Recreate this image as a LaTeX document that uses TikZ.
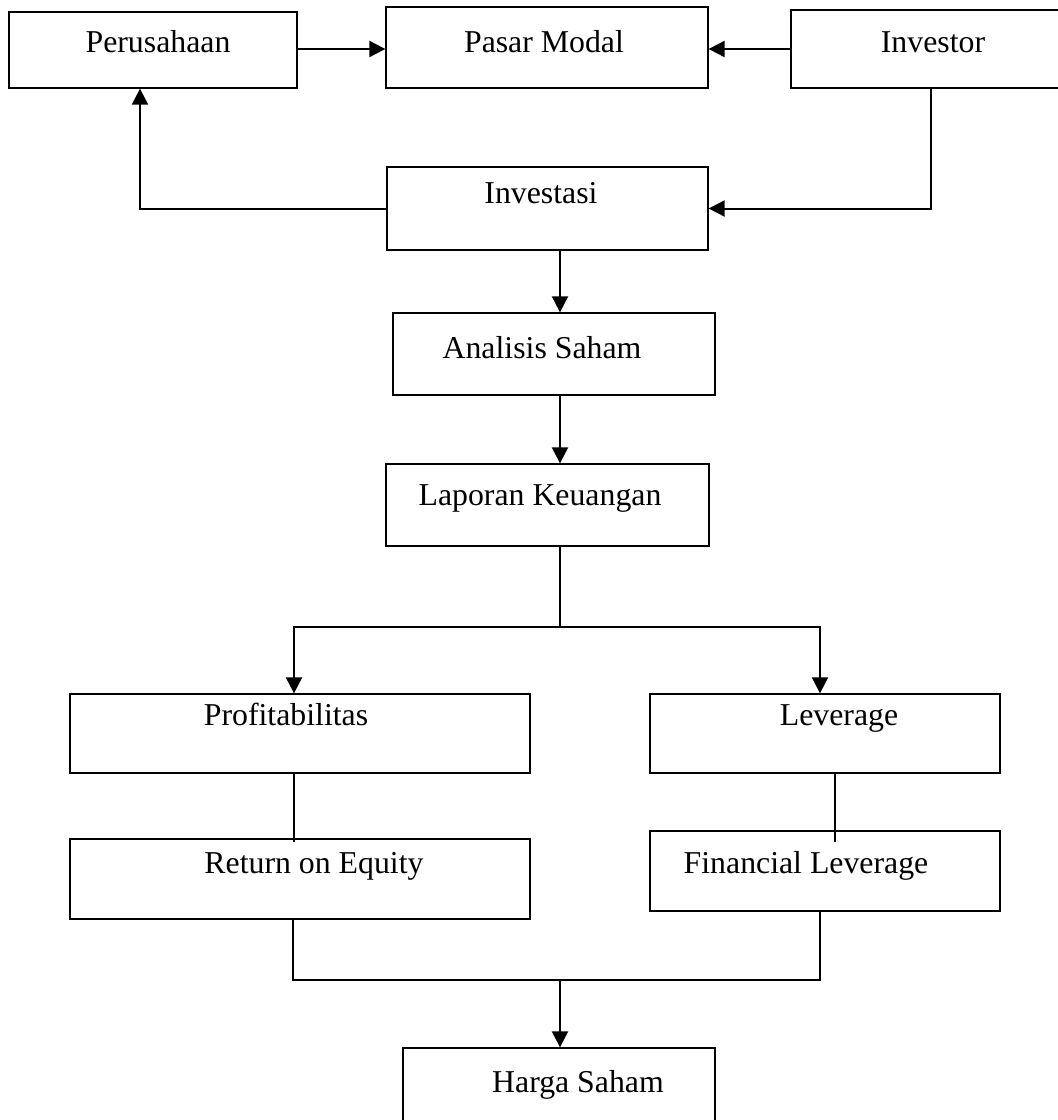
\documentclass[tikz,border=0pt]{standalone}
\usepackage{fontspec}
\setmainfont{Liberation Serif}
\usetikzlibrary{arrows.meta}

\tikzset{
  kotak/.style = {draw, line width=0.65pt, inner sep=0pt},
  teks/.style = {anchor=base, inner sep=0pt, font=\fontsize{15.9}{19}\selectfont},
  panah/.style = {line width=1pt, -{Triangle[length=8pt,width=8pt]}},
  garis/.style = {line width=1pt},
  tipis/.style = {line width=0.55pt}
}

\begin{document}
\begin{tikzpicture}[x=0.5pt, y=-0.5pt]
\useasboundingbox (0,0) rectangle (1058,1120);
\clip (0,0) rectangle (1058,1120);

% kotak
\node[kotak, minimum width=144pt, minimum height=38pt] (perus) at (153,50) {};
\node[kotak, minimum width=161pt, minimum height=40.5pt] (pasar) at (547,47.5) {};
\node[kotak, minimum width=142pt, minimum height=39pt] (invtor) at (933,49) {};
\node[kotak, minimum width=160.5pt, minimum height=41.5pt] (invest) at (547.5,208.5) {};
\node[kotak, minimum width=161pt, minimum height=41pt] (anal) at (554,354) {};
\node[kotak, minimum width=161.5pt, minimum height=41pt] (lapor) at (547.5,505) {};
\node[kotak, minimum width=230pt, minimum height=39.5pt] (profit) at (300,733.5) {};
\node[kotak, minimum width=175pt, minimum height=39.5pt] (lev) at (825,733.5) {};
\node[kotak, minimum width=230pt, minimum height=40pt] (roe) at (300,879) {};
\node[kotak, minimum width=175pt, minimum height=40pt] (fl) at (825,871) {};
\node[kotak, minimum width=156pt, minimum height=46pt] (harga) at (559,1094) {};

% teks
\node[teks] (perus-t) at (158,52) {Perusahaan};
\node[teks] (pasar-t) at (544,52) {Pasar Modal};
\node[teks] (invtor-t) at (933,52) {Investor};
\node[teks] (invest-t) at (541,203) {Investasi};
\node[teks] (anal-t) at (542,358) {Analisis Saham};
\node[teks] (lapor-t) at (540,505) {Laporan Keuangan};
\node[teks] (profit-t) at (286,725) {Profitabilitas};
\node[teks] (lev-t) at (839,725) {Leverage};
\node[teks] (roe-t) at (314,873) {Return on Equity};
\node[teks] (fl-t) at (806,873) {Financial Leverage};
\node[teks] (harga-t) at (578,1092) {Harga Saham};

% titik bantu
\coordinate (baris) at (0,49);
\coordinate (tengah) at (560,0);
\coordinate (kiri) at (294,0);
\coordinate (kanan) at (820,0);
\coordinate (kanan2) at (835,0);
\coordinate (naik) at (140,0);
\coordinate (turun) at (931,0);
\coordinate (cabang) at (560,627);
\coordinate (gabung) at (560,980);

% panah baris atas
\draw[panah] (perus.east |- baris) -- (pasar.west |- baris);
\draw[panah] (invtor.west |- baris) -- (pasar.east |- baris);
\draw[panah] (invest.west) -| (perus.south -| naik);
\draw[panah] (invtor.south -| turun) |- (invest.east);

% panah tengah
\draw[panah] (invest.south -| tengah) -- (anal.north -| tengah);
\draw[panah] (anal.south -| tengah) -- (lapor.north -| tengah);
\draw[garis] (lapor.south -| tengah) -- (cabang);
\draw[panah] (cabang) -| (profit.north -| kiri);
\draw[panah] (cabang) -| (lev.north -| kanan);

\draw[tipis] (profit.south -| kiri) -- ([yshift=-2pt]roe.north -| kiri);
\draw[tipis] (lev.south -| kanan2) -- ([yshift=-6pt]fl.north -| kanan2);

% ke harga saham
\draw[garis] (roe.south -| 293,0) |- (gabung);
\draw[garis] (fl.south -| kanan) |- (gabung);
\draw[panah] (gabung) -- (harga.north -| gabung);

\end{tikzpicture}
\end{document}
